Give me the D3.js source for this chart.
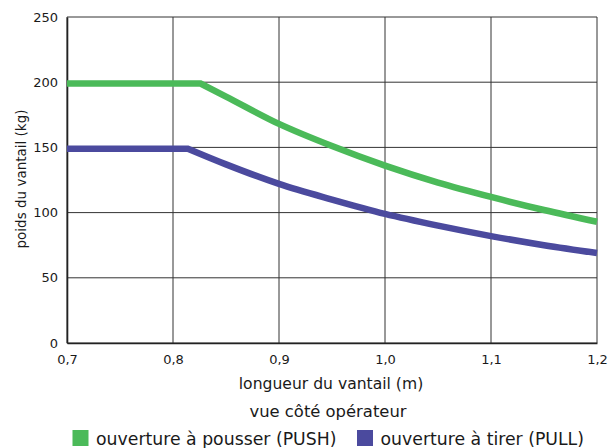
<!DOCTYPE html>
<html>
<head>
<meta charset="utf-8">
<script src="https://cdn.jsdelivr.net/npm/d3@7"></script>
<style>
  body { margin: 0; background: #fff; }
  svg text { font-family: "DejaVu Sans", sans-serif; fill: #1a1a1a; }
</style>
</head>
<body>
<svg id="chart"></svg>
<script>
// door leaf length (m) vs max leaf weight (kg)
const pushLength = [0.7, 0.826, 0.85, 0.9, 0.95, 1.0, 1.05, 1.1, 1.15, 1.2];
const pushWeight = [199, 199, 189, 168, 151, 136, 123, 112, 102, 93];
const pullLength = [0.7, 0.814, 0.85, 0.9, 0.95, 1.0, 1.05, 1.1, 1.15, 1.2];
const pullWeight = [149, 149, 137, 122, 110, 99, 90, 82, 75, 69];

const xTicks = [0.7, 0.8, 0.9, 1.0, 1.1, 1.2];
const yTicks = [0, 50, 100, 150, 200, 250];

const seriesNames = ["ouverture à pousser (PUSH)", "ouverture à tirer (PULL)"];
const seriesColors = ["#4bba59", "#4b4a9e"];

const width = 609, height = 448;
const margin = { top: 17, right: 12, bottom: 105, left: 67 };
const innerW = width - margin.left - margin.right;
const innerH = height - margin.top - margin.bottom;

const svg = d3.select("#chart").attr("width", width).attr("height", height);
const g = svg.append("g").attr("transform", `translate(${margin.left},${margin.top})`);

const x = d3.scaleLinear().domain([0.7, 1.2]).range([0, innerW]);
const y = d3.scaleLinear().domain([0, 250]).range([innerH, 0]);
const fmt = d3.format(".1f");

// grid
g.append("g")
  .selectAll("line")
  .data(xTicks)
  .join("line")
  .attr("x1", (d) => x(d)).attr("x2", (d) => x(d))
  .attr("y1", 0).attr("y2", innerH)
  .attr("stroke", "#333").attr("stroke-width", 1);

g.append("g")
  .selectAll("line")
  .data(yTicks)
  .join("line")
  .attr("x1", 0).attr("x2", innerW)
  .attr("y1", (d) => y(d)).attr("y2", (d) => y(d))
  .attr("stroke", "#333").attr("stroke-width", 1);

// axes
const xAxis = g.append("g")
  .attr("transform", `translate(0,${innerH})`)
  .call(d3.axisBottom(x).tickValues(xTicks).tickSize(0).tickPadding(12)
    .tickFormat((d) => fmt(d).replace(".", ",")));
xAxis.select(".domain").attr("stroke", "#222").attr("stroke-width", 1.6);
xAxis.selectAll("text").attr("font-size", 13).attr("font-family", "DejaVu Sans");

const yAxis = g.append("g")
  .call(d3.axisLeft(y).tickValues(yTicks).tickSize(0).tickPadding(9));
yAxis.select(".domain").attr("stroke", "#222").attr("stroke-width", 1.6);
yAxis.selectAll("text").attr("font-size", 13).attr("font-family", "DejaVu Sans");

// lines: straight flat part, then a smooth descent from the knee
const curve = d3.line().x((d) => x(d[0])).y((d) => y(d[1])).curve(d3.curveMonotoneX);
const series = [
  d3.zip(pushLength, pushWeight),
  d3.zip(pullLength, pullWeight),
];
const pathFor = (pts) =>
  `M${x(pts[0][0])},${y(pts[0][1])}` + curve(pts.slice(1)).replace(/^M/, "L");

g.selectAll(".series")
  .data(series)
  .join("path")
  .attr("class", "series")
  .attr("d", pathFor)
  .attr("fill", "none")
  .attr("stroke", (d, i) => seriesColors[i])
  .attr("stroke-width", 6.5);

// titles
svg.append("text")
  .attr("x", margin.left + innerW / 2 - 1)
  .attr("y", 389)
  .attr("text-anchor", "middle")
  .attr("font-size", 15.6)
  .text("longueur du vantail (m)");

svg.append("text")
  .attr("x", margin.left + innerW / 2 - 4)
  .attr("y", 417)
  .attr("text-anchor", "middle")
  .attr("font-size", 16.4)
  .text("vue côté opérateur");

svg.append("text")
  .attr("transform", `translate(26,${margin.top + innerH / 2 - 1}) rotate(-90)`)
  .attr("text-anchor", "middle")
  .attr("font-size", 13.5)
  .text("poids du vantail (kg)");

// legend
const legendX = [72.5, 357];
const legend = svg.append("g")
  .selectAll("g")
  .data(seriesNames)
  .join("g")
  .attr("transform", (d, i) => `translate(${legendX[i]},430)`);
legend.append("rect")
  .attr("width", 16).attr("height", 16)
  .attr("fill", (d, i) => seriesColors[i]);
legend.append("text")
  .attr("x", 23.5).attr("y", 14.5)
  .attr("font-size", 17.3)
  .text((d) => d);
</script>
</body>
</html>
